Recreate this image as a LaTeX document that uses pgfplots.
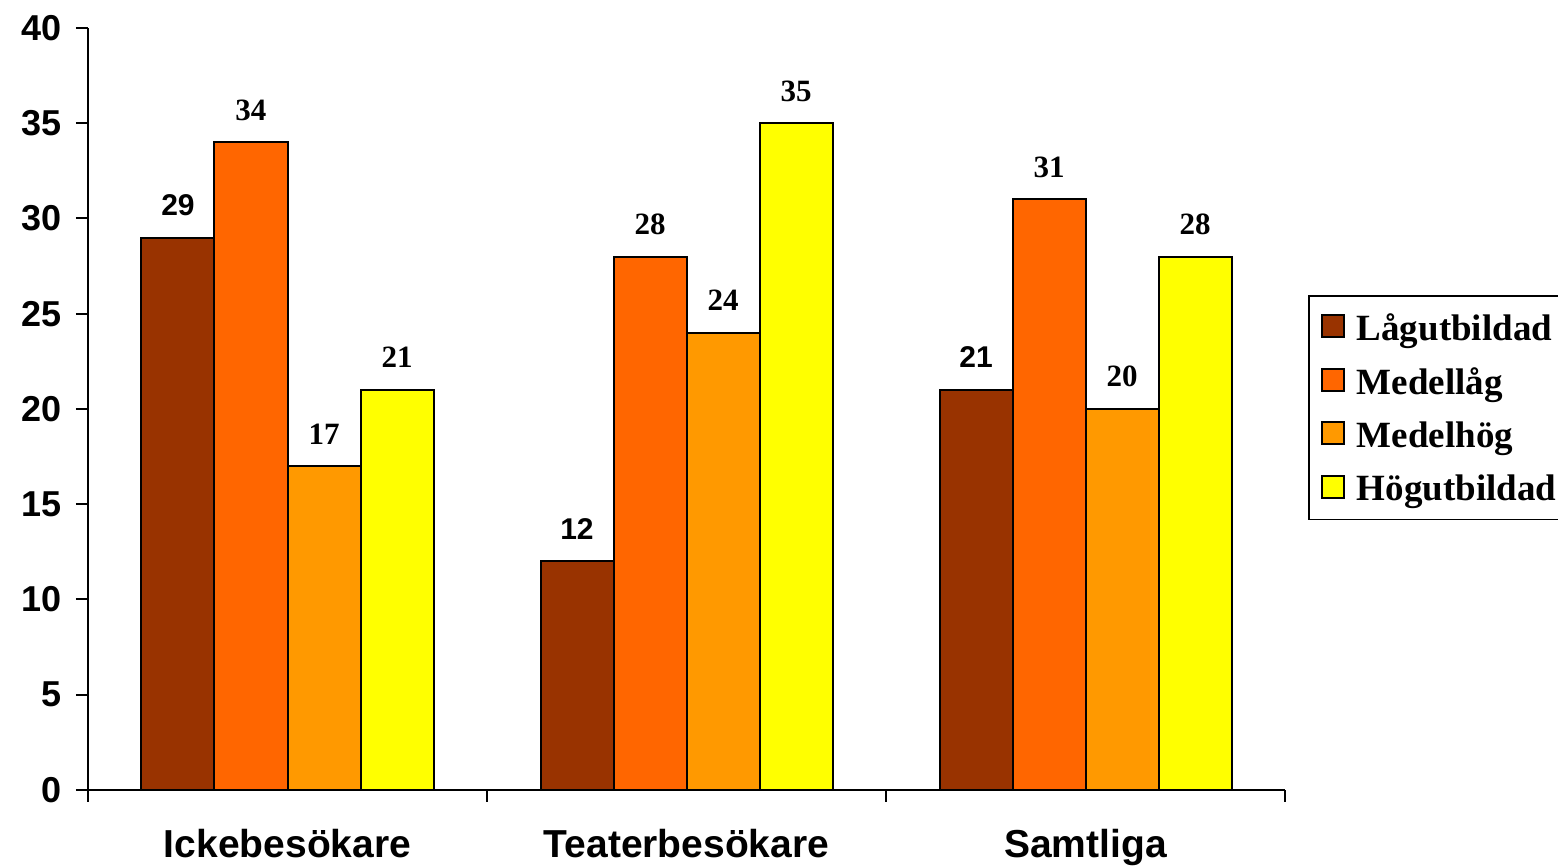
\documentclass[border=0pt]{standalone}
\usepackage{fontspec}
\setmainfont{Liberation Serif}
\setsansfont{Liberation Sans}
\usepackage{pgfplots}
\pgfplotsset{compat=1.18}
\definecolor{cA}{HTML}{993300}
\definecolor{cB}{HTML}{FF6600}
\definecolor{cC}{HTML}{FF9900}
\definecolor{cD}{HTML}{FFFF00}
\begin{document}
\begin{tikzpicture}
\useasboundingbox (-44pt,-38pt) rectangle (735pt,395pt);
\clip (-44pt,-38pt) rectangle (735pt,395pt);
\begin{axis}[at={(0pt,0pt)}, anchor=south west,
  scale only axis, width=598.5pt, height=381pt,
  ybar=0pt, bar width=36.5pt,
  xmin=-0.5, xmax=2.5, ymin=0, ymax=40,
  xtick={-0.5,0.5,1.5,2.5}, xticklabels={,,,},
  extra x ticks={0,1,2},
  extra x tick labels={Ickebesökare,Teaterbesökare,Samtliga},
  extra x tick style={tick style={draw=none}},
  ytick={0,5,...,40},
  axis x line*=bottom, axis y line*=left,
  axis line style={-, line width=1pt, black},
  tick align=outside, major tick length=6pt,
  tick style={line width=1pt, black},
  /pgf/number format/assume math mode=true,
  yticklabel style={font=\fontsize{18}{20}\selectfont\sffamily\bfseries, anchor=east, xshift=-3.5pt},
  xticklabel style={font=\fontsize{19.5}{22}\selectfont\sffamily\bfseries, anchor=base, yshift=-28pt},
  nodes near coords,
  every node near coord/.append style={anchor=base, yshift=11pt, black, font=\fontsize{15.5}{17}\selectfont\bfseries},
  every axis plot post/.append style={draw=black, line width=1pt,
    legend image code/.code={\draw[##1, line width=1pt] (0pt,-5pt) rectangle (11pt,6pt);}},
  legend style={at={(1.0192,0.6496)}, anchor=north west, draw=black, line width=0.8pt,
    inner xsep=6pt, inner ysep=2.5pt, font=\fontsize{18.5}{20}\selectfont\bfseries,
    nodes={inner sep=0pt, text height=20pt, text depth=6.7pt}, column sep=6pt},
  legend cell align=left,
]
\addplot[fill=cA, every node near coord/.append style={font=\fontsize{15}{17}\selectfont\sffamily\bfseries}] coordinates {(0,29) (1,12) (2,21)};
\addplot[fill=cB] coordinates {(0,34) (1,28) (2,31)};
\addplot[fill=cC] coordinates {(0,17) (1,24) (2,20)};
\addplot[fill=cD] coordinates {(0,21) (1,35) (2,28)};
\legend{Lågutbildad,Medellåg,Medelhög,Högutbildad}
\end{axis}
\end{tikzpicture}
\end{document}
